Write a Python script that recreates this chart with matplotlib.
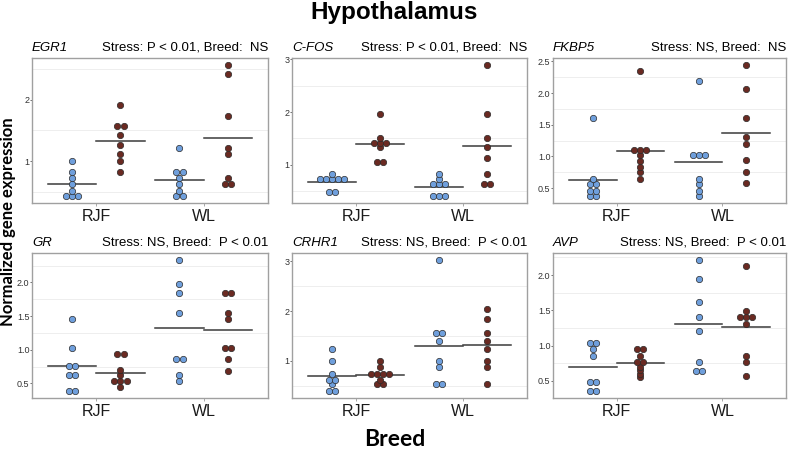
import numpy as np
import matplotlib
matplotlib.use('Agg')
import matplotlib.pyplot as plt
from matplotlib.ticker import MultipleLocator, FormatStrFormatter

# Breeds on the x axis, two treatment groups dodged inside each breed
breeds = ['RJF', 'WL']
groups = ['control', 'stress']
colors = {'control': '#6f9fdc', 'stress': '#6a2a22'}

genes = ['EGR1', 'C-FOS', 'FKBP5', 'GR', 'CRHR1', 'AVP']
stats = ['Stress: P < 0.01, Breed:  NS',
         'Stress: P < 0.01, Breed:  NS',
         'Stress: NS, Breed:  NS',
         'Stress: NS, Breed:  P < 0.01',
         'Stress: NS, Breed:  P < 0.01',
         'Stress: NS, Breed:  P < 0.01']
tick_step = [1, 1, 0.5, 0.5, 1, 0.5]
tick_fmt = ['%d', '%d', '%.1f', '%.1f', '%d', '%.1f']

# values per gene: (RJF control, RJF stress, WL control, WL stress)
egr1 = ([1.00, 0.82, 0.73, 0.63, 0.52, 0.43, 0.43, 0.43],
        [1.92, 1.57, 1.57, 1.42, 1.27, 1.12, 1.00, 0.83],
        [1.21, 0.82, 0.82, 0.73, 0.63, 0.52, 0.43, 0.43],
        [2.57, 2.41, 1.73, 1.21, 1.12, 0.73, 0.63, 0.63])
cfos = ([0.83, 0.73, 0.73, 0.73, 0.73, 0.73, 0.48, 0.48],
        [1.97, 1.50, 1.42, 1.42, 1.42, 1.33, 1.05, 1.05],
        [0.83, 0.73, 0.63, 0.63, 0.63, 0.40, 0.40, 0.40],
        [2.90, 1.97, 1.50, 1.33, 1.12, 0.83, 0.63, 0.63])
fkbp5 = ([1.60, 0.64, 0.57, 0.57, 0.45, 0.45, 0.37, 0.37],
         [2.35, 1.10, 1.10, 1.10, 1.02, 0.93, 0.84, 0.76, 0.64],
         [2.19, 1.02, 1.02, 1.02, 0.64, 0.57, 0.45, 0.37],
         [2.45, 2.07, 1.60, 1.31, 1.20, 0.94, 0.76, 0.58])
gr = ([1.46, 1.03, 0.76, 0.76, 0.62, 0.62, 0.38, 0.38],
      [0.93, 0.93, 0.70, 0.62, 0.54, 0.54, 0.54, 0.45],
      [2.34, 1.97, 1.84, 1.54, 0.86, 0.86, 0.62, 0.54],
      [1.84, 1.84, 1.54, 1.46, 1.03, 1.03, 0.86, 0.69])
crhr1 = ([1.24, 0.99, 0.73, 0.62, 0.62, 0.54, 0.39, 0.39],
         [0.99, 0.87, 0.73, 0.73, 0.73, 0.73, 0.62, 0.54, 0.54],
         [3.03, 1.55, 1.55, 1.40, 0.99, 0.87, 0.54, 0.54],
         [2.04, 1.85, 1.55, 1.40, 1.24, 0.99, 0.87, 0.54])
avp = ([1.04, 1.04, 0.95, 0.85, 0.49, 0.49, 0.35, 0.35],
       [0.95, 0.95, 0.85, 0.77, 0.77, 0.69, 0.65, 0.60, 0.55],
       [2.22, 1.95, 1.62, 1.40, 1.21, 0.77, 0.64, 0.64],
       [2.13, 1.49, 1.40, 1.40, 1.40, 1.30, 0.85, 0.77, 0.57])
gene_data = [egr1, cfos, fkbp5, gr, crhr1, avp]

plt.rcParams['font.family'] = ['Liberation Sans', 'DejaVu Sans']

W, H = 789, 450
fig = plt.figure(figsize=(W / 100, H / 100), dpi=100)

# axes boxes in pixels: (left, right) and (top, bottom)
cols = [(32, 268), (292, 527), (553, 786)]
rows = [(58, 203), (253, 398)]

dodge = 0.225
dot_gap = 0.056

for k, gene in enumerate(genes):
    r, c = divmod(k, 3)
    x0, x1 = cols[c]
    y0, y1 = rows[r]
    ax = fig.add_axes([x0 / W, 1 - y1 / H, (x1 - x0) / W, (y1 - y0) / H])

    allv = np.concatenate([np.array(v) for v in gene_data[k]])
    lo, hi = allv.min(), allv.max()
    pad = (hi - lo) * 0.05
    ax.set_ylim(lo - pad, hi + pad)
    ax.set_xlim(0.4, 2.6)

    i = 0
    for b, breed in enumerate(breeds):
        for g, grp in enumerate(groups):
            vals = np.array(gene_data[k][i])
            i += 1
            xc = b + 1 + (-dodge if g == 0 else dodge)
            # mean line
            ax.plot([xc - dodge, xc + dodge], [vals.mean()] * 2,
                    color='#3a3a3a', lw=1.1, zorder=2)
            # stack equal values side by side, centred
            uniq, counts = np.unique(vals, return_counts=True)
            for u, n in zip(uniq, counts):
                xs = xc + (np.arange(n) - (n - 1) / 2) * dot_gap
                ax.scatter(xs, [u] * n, s=21, color=colors[grp],
                           edgecolor='#2b2b2b', linewidth=0.5, zorder=3)

    ax.yaxis.set_major_locator(MultipleLocator(tick_step[k]))
    ax.yaxis.set_minor_locator(MultipleLocator(tick_step[k] / 2))
    ax.yaxis.set_major_formatter(FormatStrFormatter(tick_fmt[k]))
    ax.grid(which='minor', axis='y', color='#eeeeee', lw=0.7)
    ax.set_axisbelow(True)
    ax.set_xticks([1, 2])
    ax.set_xticklabels(breeds, fontsize=11.5)
    ax.tick_params(axis='y', which='major', labelsize=6.5,
                   length=1.2, width=0.6, pad=0.6, color='#555555')
    ax.tick_params(axis='y', which='minor', length=0)
    ax.tick_params(axis='x', length=2, width=0.6, color='#999999', pad=2.5)
    for lbl in ax.get_xticklabels():
        lbl.set_color('#1a1a1a')
    for lbl in ax.get_yticklabels():
        lbl.set_color('#333333')
    for sp in ax.spines.values():
        sp.set_color('#a0a0a0')
        sp.set_linewidth(1.0)

    ax.text(0, 1.03, gene, transform=ax.transAxes, fontsize=9.5,
            style='italic', ha='left', va='bottom')
    ax.text(1, 1.03, stats[k], transform=ax.transAxes, fontsize=9.5,
            ha='right', va='bottom')

fig.text(0.5, 1 - 12 / H, 'Hypothalamus', fontsize=17.5, fontweight='bold',
         ha='center', va='center')
fig.text(0.5, 1 - 439 / H, 'Breed', fontsize=16.5, fontweight='bold',
         ha='center', va='center', family=['Lato', 'DejaVu Sans'])
fig.text(8 / W, 1 - 222 / H, 'Normalized gene expression', fontsize=12,
         fontweight='bold', rotation=90, ha='center', va='center',
         family=['Lato', 'DejaVu Sans'])

fig.savefig('out.png', dpi=100)
